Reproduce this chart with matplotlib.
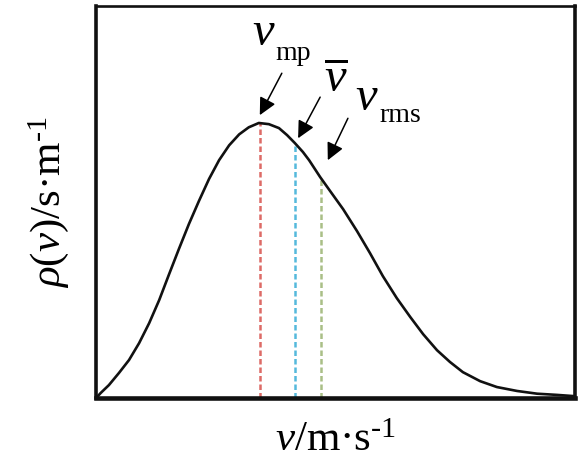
import matplotlib
matplotlib.use("Agg")
import matplotlib.pyplot as plt

plt.rcParams['font.family'] = ['Liberation Serif', 'DejaVu Serif']
plt.rcParams['mathtext.fontset'] = 'custom'
plt.rcParams['mathtext.rm'] = 'Liberation Serif'
plt.rcParams['mathtext.it'] = 'Liberation Serif:italic'

# curve (arbitrary units, v from 0 to 10, rho from 0 to 1)
speed = [0.04, 0.10, 0.27, 0.48, 0.69, 0.90, 1.11, 1.32, 1.52, 1.73, 1.94,
         2.15, 2.36, 2.57, 2.78, 2.99, 3.19, 3.40, 3.61, 3.82, 3.99, 4.15,
         4.32, 4.45, 4.68, 4.89, 5.16, 5.45, 5.72, 5.99, 6.28, 6.56, 6.83,
         7.12, 7.39, 7.66, 8.02, 8.37, 8.79, 9.21, 9.62, 9.96]
density = [0.005, 0.013, 0.033, 0.064, 0.097, 0.140, 0.191, 0.250, 0.314,
           0.380, 0.444, 0.503, 0.559, 0.607, 0.645, 0.673, 0.691, 0.702,
           0.699, 0.689, 0.671, 0.651, 0.628, 0.607, 0.564, 0.528, 0.482,
           0.426, 0.370, 0.311, 0.255, 0.207, 0.163, 0.122, 0.092, 0.066,
           0.043, 0.028, 0.018, 0.011, 0.008, 0.005]

# characteristic speeds: most probable, mean, root mean square
mark_names = ['mp', 'mean', 'rms']
mark_speed = [3.42, 4.15, 4.70]
mark_height = [0.702, 0.651, 0.561]
mark_colors = ['#dd6b66', '#55b9dc', '#a9bf86']

fig = plt.figure(figsize=(5.87, 4.62), dpi=100)
ax = fig.add_axes([0.1635, 0.1385, 0.816, 0.848])

for xv, hv, col in zip(mark_speed, mark_height, mark_colors):
    ax.plot([xv, xv], [0, hv], color=col, lw=1.8, ls=(0, (2.2, 1.2)), zorder=2)

ax.plot(speed, density, color='#111111', lw=1.9, zorder=3,
        solid_joinstyle='round')

ax.set_xlim(0, 10)
ax.set_ylim(0, 1)
ax.set_xticks([])
ax.set_yticks([])
for side, w in [('left', 2.6), ('right', 2.6), ('top', 1.9), ('bottom', 3.3)]:
    ax.spines[side].set_linewidth(w)
    ax.spines[side].set_color('#111111')

# arrows pointing at each speed
arrows = [((3.88, 0.829), (3.42, 0.722)),
          ((4.68, 0.768), (4.22, 0.663)),
          ((5.26, 0.714), (4.84, 0.607))]
for tail, tip in arrows:
    ax.annotate('', xy=tip, xytext=tail,
                arrowprops=dict(arrowstyle='-|>', color='black', lw=1.1,
                                mutation_scale=26, shrinkA=0, shrinkB=0))

ax.text(3.51, 0.900, r'$v$', fontsize=35, ha='center', va='baseline')
ax.text(3.74, 0.862, 'mp', fontsize=20, ha='left', va='baseline')
ax.text(5.01, 0.781, r'$\overline{v}$', fontsize=35, ha='center', va='baseline')
ax.text(5.66, 0.735, r'$v$', fontsize=35, ha='center', va='baseline')
ax.text(5.91, 0.704, 'rms', fontsize=20, ha='left', va='baseline')

ax.set_xlabel(r'$v$/m·s$^{\mathrm{‐1}}$', fontsize=31, labelpad=17)
ax.set_ylabel(r'$\rho(v)$/s·m$^{\mathrm{‐1}}$', fontsize=31, labelpad=18)

fig.savefig('out.png', dpi=100)
